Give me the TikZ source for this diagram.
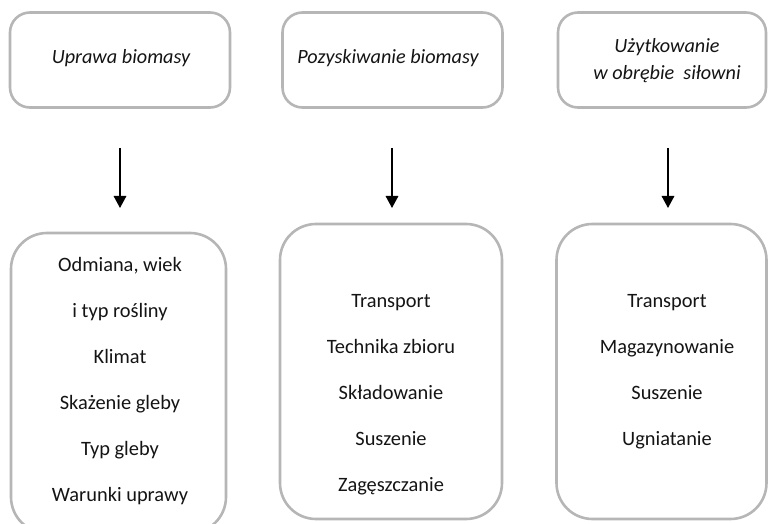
\documentclass[tikz,border=0pt]{standalone}
\usepackage{fontspec}
\setmainfont{Carlito}
\usetikzlibrary{arrows.meta}
\definecolor{boxgray}{RGB}{182,182,182}
\definecolor{txt}{RGB}{20,20,20}
\begin{document}
\begin{tikzpicture}[x=1pt,y=-1pt,
  topbox/.style={draw=boxgray,line width=2.6pt,rounded corners=20pt,minimum width=220pt,minimum height=95pt,inner sep=0pt},
  botbox/.style={draw=boxgray,line width=2.6pt,rounded corners=36pt,inner sep=0pt},
  toptext/.style={font=\fontsize{20.2}{27}\selectfont\itshape,text=txt,align=center,inner sep=0pt},
  bottext/.style={font=\fontsize{20.4}{46}\selectfont,text=txt,align=center,inner sep=0pt},
  arr/.style={line width=1.6pt,-{Triangle[width=12.5pt,length=12pt]}}]
\useasboundingbox (0,0) rectangle (769,524);
\clip (0,0) rectangle (769,524);
% top boxes
\node[topbox] (t1) at (120,60) {};
\node[topbox] (t2) at (392.5,60) {};
\node[topbox,minimum width=208pt] (t3) at (662,60) {};
\node[toptext] (t1t) at (121,58) {Uprawa biomasy};
\node[toptext] (t2t) at (388,58) {Pozyskiwanie biomasy};
\node[toptext] (t3t) at (667,61) {Użytkowanie\\w obrębie \ siłowni};
% bottom boxes
\node[botbox,minimum width=215pt,minimum height=300pt] (b1) at (118.5,383) {};
\node[botbox,minimum width=222pt,minimum height=295pt] (b2) at (391,371.5) {};
\node[botbox,minimum width=210pt,minimum height=295pt] (b3) at (661.5,371.5) {};
\node[bottext] (b1t) at (120,381) {Odmiana, wiek\\i typ rośliny\\Klimat\\Skażenie gleby\\Typ gleby\\Warunki uprawy};
\node[bottext] (b2t) at (391,395) {Transport\\Technika zbioru\\Składowanie\\Suszenie\\Zagęszczanie};
\node[bottext] (b3t) at (667,372) {Transport\\Magazynowanie\\Suszenie\\Ugniatanie};
% arrows
\coordinate (a1s) at (120,148); \coordinate (a1e) at (120,208);
\coordinate (a2s) at (392,148); \coordinate (a2e) at (392,208);
\coordinate (a3s) at (668,148); \coordinate (a3e) at (668,208);
\draw[arr] (a1s) -- (a1e);
\draw[arr] (a2s) -- (a2e);
\draw[arr] (a3s) -- (a3e);
\end{tikzpicture}
\end{document}
